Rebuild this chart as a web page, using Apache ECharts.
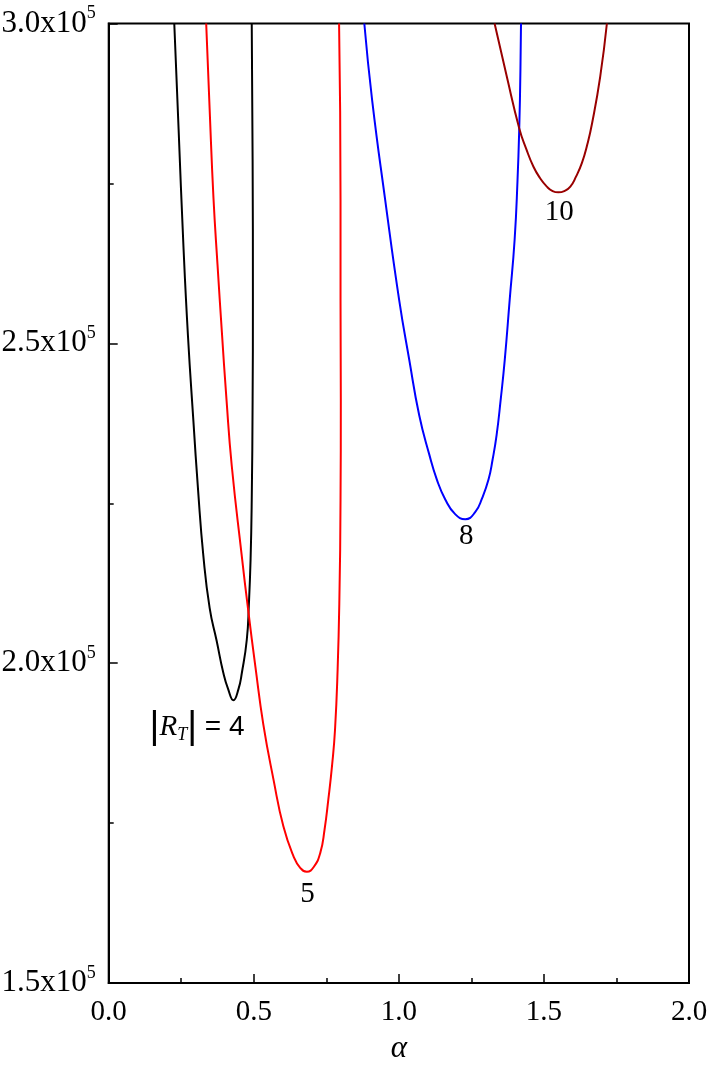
<!DOCTYPE html>
<html>
<head>
<meta charset="utf-8">
<script src="https://cdn.jsdelivr.net/npm/echarts@6/dist/echarts.min.js"></script>
<style>
  html, body { margin: 0; padding: 0; background: #fff; }
  #chart { width: 711px; height: 1066px; }
</style>
</head>
<body>
<div id="chart"></div>
<script>
// curves: alpha and R for each |R_T|
var alpha4 = [0.226, 0.241, 0.257, 0.273, 0.292, 0.308, 0.326, 0.348, 0.372, 0.395, 0.412, 0.430, 0.447, 0.459, 0.476, 0.483, 0.489, 0.493, 0.496, 0.497, 0.496, 0.493];
var r4 = [300000, 283400, 265800, 251300, 237800, 227100, 216900, 208600, 203500, 198500, 195900, 194200, 195900, 198500, 203700, 209100, 216200, 225500, 241200, 256800, 278700, 300000];

var alpha5 = [0.336, 0.348, 0.361, 0.375, 0.390, 0.406, 0.424, 0.458, 0.481, 0.506, 0.533, 0.568, 0.602, 0.637, 0.660, 0.683, 0.706, 0.729, 0.744, 0.757, 0.770, 0.780, 0.789, 0.795, 0.799, 0.800, 0.799, 0.799, 0.794];
var r5 = [300000, 286500, 272800, 262300, 251800, 241200, 230900, 217000, 208200, 199300, 190400, 181800, 174500, 169800, 168000, 167400, 168100, 170300, 174000, 178700, 184100, 189600, 199000, 209900, 225500, 241200, 256800, 272400, 300000];

var alpha8 = [0.881, 0.908, 0.953, 1.001, 1.036, 1.070, 1.105, 1.131, 1.160, 1.194, 1.229, 1.263, 1.287, 1.309, 1.323, 1.337, 1.351, 1.365, 1.382, 1.399, 1.409, 1.415, 1.419, 1.421];
var r8 = [300000, 288000, 272400, 256800, 247400, 238800, 232600, 228700, 225600, 223300, 222500, 223600, 225800, 228700, 231800, 235700, 241200, 247400, 256800, 266200, 275500, 283700, 292700, 300000];

var alpha10 = [1.330, 1.372, 1.415, 1.439, 1.464, 1.487, 1.510, 1.530, 1.550, 1.570, 1.591, 1.611, 1.631, 1.649, 1.666, 1.694, 1.717];
var r10 = [300000, 291700, 283600, 280400, 277600, 275800, 274500, 273800, 273600, 273800, 274500, 276100, 278200, 281000, 284400, 291700, 300000];

var curveNames = ['4', '5', '8', '10'];
var curveColors = ['#000000', '#ff0000', '#0000ff', '#990000'];

// curve labels
var labelText = ['{bar||}{it|R}{sub|T}{bar||}{eq| = 4}', '5', '8', '10'];
var labelAlpha = [0.3045, 0.6855, 1.232, 1.553];
var labelR = [189900, 163800, 219800, 270500];

var xTicks = [0, 0.5, 1.0, 1.5, 2.0];
var yTicks = [150000, 200000, 250000, 300000];

var serif = '"Liberation Serif", "DejaVu Serif", serif';
var sans = '"Liberation Sans", Arial, sans-serif';

function pairs(a, r) {
  var out = [];
  for (var i = 0; i < a.length; i++) out.push([a[i], r[i]]);
  return out;
}

var curves = [[alpha4, r4], [alpha5, r5], [alpha8, r8], [alpha10, r10]];
var series = curves.map(function (c, i) {
  return {
    name: curveNames[i],
    type: 'line',
    data: pairs(c[0], c[1]),
    showSymbol: false,
    smooth: 0.5,
    lineStyle: { color: curveColors[i], width: 2 },
    silent: true
  };
});

series.push({
  type: 'scatter',
  symbolSize: 0,
  silent: true,
  itemStyle: { opacity: 1 },
  data: labelText.map(function (t, i) {
    return { value: [labelAlpha[i], labelR[i]], name: t };
  }),
  label: {
    show: true,
    position: 'inside',
    formatter: function (p) { return p.name; },
    color: '#000',
    opacity: 1,
    textBorderWidth: 0,
    fontFamily: serif,
    fontSize: 29,
    rich: {
      bar: { fontFamily: sans, fontSize: 38, color: '#000' },
      it: { fontFamily: serif, fontSize: 29, fontStyle: 'italic', color: '#000' },
      sub: { fontFamily: serif, fontSize: 18, fontStyle: 'italic', color: '#000', padding: [14, 0, 0, 0] },
      eq: { fontFamily: sans, fontSize: 28, color: '#000' }
    }
  }
});

var chart = echarts.init(document.getElementById('chart'), null, { renderer: 'canvas' });
chart.setOption({
  animation: false,
  backgroundColor: '#fff',
  grid: {
    left: 108.7, right: 22, top: 23.5, bottom: 83,
    containLabel: false,
    outerBoundsMode: 'none',
    show: true, borderColor: '#000', borderWidth: 2
  },
  xAxis: {
    type: 'value',
    min: xTicks[0], max: xTicks[xTicks.length - 1], interval: 0.5,
    name: 'α',
    nameLocation: 'middle',
    nameGap: 50,
    nameTextStyle: { fontFamily: serif, fontStyle: 'italic', fontSize: 31, color: '#000' },
    axisLine: { lineStyle: { color: '#000', width: 2 } },
    axisTick: { inside: true, length: 9, lineStyle: { color: '#000', width: 1.5 } },
    minorTick: { show: true, splitNumber: 2, length: 5, lineStyle: { color: '#000', width: 1.5 } },
    splitLine: { show: false },
    axisLabel: {
      margin: 15,
      fontFamily: serif, fontSize: 29, color: '#000',
      formatter: function (v) { return v.toFixed(1); }
    }
  },
  yAxis: {
    type: 'value',
    min: yTicks[0], max: yTicks[yTicks.length - 1], interval: 50000,
    name: 'R',
    nameLocation: 'middle',
    nameGap: 88,
    nameRotate: 0,
    nameTextStyle: { fontFamily: serif, fontStyle: 'italic', fontSize: 29, color: '#000' },
    axisLine: { lineStyle: { color: '#000', width: 2 } },
    axisTick: { inside: true, length: 9, lineStyle: { color: '#000', width: 1.5 } },
    minorTick: { show: true, splitNumber: 2, length: 5, lineStyle: { color: '#000', width: 1.5 } },
    splitLine: { show: false },
    axisLabel: {
      margin: 13,
      color: '#000',
      formatter: function (v) { return '{m|' + (v / 1e5).toFixed(1) + 'x10}{s|5}'; },
      rich: {
        m: { fontFamily: serif, fontSize: 31, color: '#000' },
        s: { fontFamily: serif, fontSize: 18, color: '#000', padding: [0, 0, 20, 0] }
      }
    }
  },
  series: series
});
</script>
</body>
</html>
